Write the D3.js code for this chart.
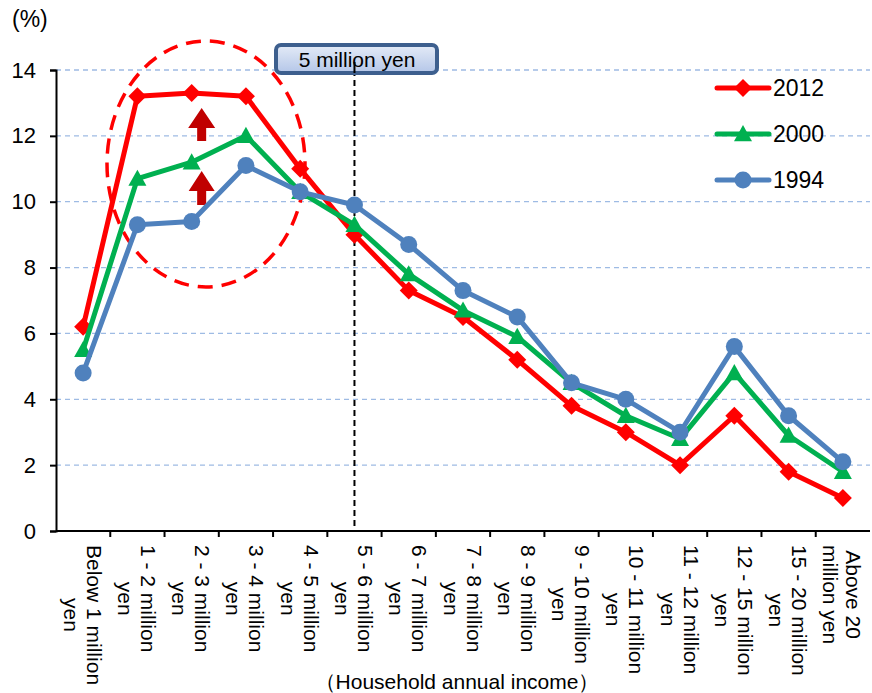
<html>
<head>
<meta charset="utf-8">
<script src="https://d3js.org/d3.v7.min.js"></script>
<style>
  body { margin: 0; background: #fff; }
  svg text { font-family: "Liberation Sans", Arial, sans-serif; fill: #000; }
</style>
</head>
<body>
<div id="chart"></div>
<script>
// categories (income brackets), each label split into its lines
const categories = ["Below 1 million yen", "1 - 2 million yen", "2 - 3 million yen", "3 - 4 million yen",
  "4 - 5 million yen", "5 - 6 million yen", "6 - 7 million yen", "7 - 8 million yen", "8 - 9 million yen",
  "9 - 10 million yen", "10 - 11 million yen", "11 - 12 million yen", "12 - 15 million yen",
  "15 - 20 million yen", "Above 20 million yen"];
const labelLines = [["Below 1 million", "yen"], ["1 - 2 million", "yen"], ["2 - 3 million", "yen"],
  ["3 - 4 million", "yen"], ["4 - 5 million", "yen"], ["5 - 6 million", "yen"], ["6 - 7 million", "yen"],
  ["7 - 8 million", "yen"], ["8 - 9 million", "yen"], ["9 - 10 million", "yen"], ["10 - 11 million", "yen"],
  ["11 - 12 million", "yen"], ["12 - 15 million", "yen"], ["15 - 20 million", "yen"], ["Above 20", "million yen"]];

const v2012 = [6.2, 13.2, 13.3, 13.2, 11.0, 9.0, 7.3, 6.5, 5.2, 3.8, 3.0, 2.0, 3.5, 1.8, 1.0];
const v2000 = [5.5, 10.7, 11.2, 12.0, 10.3, 9.3, 7.8, 6.7, 5.9, 4.5, 3.5, 2.8, 4.8, 2.9, 1.8];
const v1994 = [4.8, 9.3, 9.4, 11.1, 10.3, 9.9, 8.7, 7.3, 6.5, 4.5, 4.0, 3.0, 5.6, 3.5, 2.1];

const yTicks = [0, 2, 4, 6, 8, 10, 12, 14];

const series = [
  { name: "2012", values: v2012, color: "#ff0000", marker: "diamond" },
  { name: "2000", values: v2000, color: "#00b050", marker: "triangle" },
  { name: "1994", values: v1994, color: "#4f81bd", marker: "circle" }
];

const W = 872, H = 693;
const margin = { top: 70, right: 2, bottom: 162, left: 56 };

const svg = d3.select("#chart").append("svg").attr("width", W).attr("height", H);

const x = d3.scaleBand().domain(categories).range([margin.left, W - margin.right]).padding(0);
const cx = d => x(d) + x.bandwidth() / 2;
const y = d3.scaleLinear().domain([0, 14]).range([H - margin.bottom, margin.top]);

// grid lines
svg.append("g").selectAll("line")
  .data(yTicks.filter(t => t > 0))
  .enter().append("line")
  .attr("x1", margin.left).attr("x2", W - margin.right)
  .attr("y1", d => y(d)).attr("y2", d => y(d))
  .attr("stroke", "#9ebbe4").attr("stroke-width", 1.3).attr("stroke-dasharray", "5,4");

// y axis
const yaxis = d3.axisLeft(y).tickValues(yTicks).tickSize(6).tickPadding(14);
const gy = svg.append("g").attr("transform", `translate(${margin.left},0)`).call(yaxis);
gy.select(".domain").attr("stroke", "#000").attr("stroke-width", 2);
gy.selectAll(".tick line").attr("stroke", "#000").attr("stroke-width", 2);
gy.selectAll(".tick text").style("font-size", "22px").attr("font-family", null);

svg.append("text").attr("x", 12).attr("y", 27).style("font-size", "23px").text("(%)");

// vertical dashed marker at 5 million yen
svg.append("line")
  .attr("x1", cx(categories[5])).attr("x2", cx(categories[5]))
  .attr("y1", 60).attr("y2", y(0))
  .attr("stroke", "#000").attr("stroke-width", 2).attr("stroke-dasharray", "6,4");

// x axis
const gx = svg.append("g");
gx.append("line").attr("x1", margin.left).attr("x2", W - margin.right)
  .attr("y1", y(0)).attr("y2", y(0)).attr("stroke", "#000").attr("stroke-width", 2);
gx.selectAll(".xt").data(categories.slice(1)).enter().append("line")
  .attr("x1", d => x(d)).attr("x2", d => x(d))
  .attr("y1", y(0)).attr("y2", y(0) + 6).attr("stroke", "#000").attr("stroke-width", 2);

// rotated category labels (first line on the right, second line to its left)
const lh = 23;
categories.forEach((c, i) => {
  const g = svg.append("g");
  const t = g.append("text").style("font-size", "21px").attr("text-anchor", "middle")
    .attr("dominant-baseline", "central");
  const n = labelLines[i].length;
  labelLines[i].forEach((ln, j) => {
    t.append("tspan").attr("x", 0).attr("y", (j - (n - 1) / 2) * lh).text(ln);
  });
  const maxLen = d3.max(t.selectAll("tspan").nodes(), nd => nd.getComputedTextLength());
  g.attr("transform", `translate(${cx(c)},${y(0) + 14 + maxLen / 2}) rotate(90)`);
});

svg.append("text").attr("x", 457).attr("y", 689).attr("text-anchor", "middle")
  .style("font-size", "21px").text("（Household annual income）");

// ellipse highlight
svg.append("ellipse").attr("cx", 206).attr("cy", 164).attr("rx", 99).attr("ry", 123)
  .attr("fill", "none").attr("stroke", "#ff0000").attr("stroke-width", 3.5).attr("stroke-dasharray", "15,9");

// up arrows
function arrow(px, tip, headH, headW, shaftW, bottom) {
  const p = [[px, tip], [px + headW / 2, tip + headH], [px + shaftW / 2, tip + headH],
    [px + shaftW / 2, bottom], [px - shaftW / 2, bottom], [px - shaftW / 2, tip + headH],
    [px - headW / 2, tip + headH]];
  svg.append("path").attr("d", d3.line()(p) + "Z").attr("fill", "#c00000");
}
arrow(cx(categories[2]) + 10, 108, 20, 27, 9, 141);
arrow(cx(categories[2]) + 10, 171, 20, 26, 9, 205);

// lines and markers (drawn bottom to top: 2012, 2000, 1994)
const line = d3.line().x((d, i) => cx(categories[i])).y(d => y(d));
function drawMarker(g, type, color, px, py, s) {
  if (type === "diamond") {
    g.append("path").attr("d", `M${px},${py - s}L${px + s},${py}L${px},${py + s}L${px - s},${py}Z`).attr("fill", color);
  } else if (type === "triangle") {
    g.append("path").attr("d", `M${px},${py - s}L${px + s},${py + s * 0.8}L${px - s},${py + s * 0.8}Z`).attr("fill", color);
  } else {
    g.append("circle").attr("cx", px).attr("cy", py).attr("r", s).attr("fill", color);
  }
}
const msize = { diamond: 9, triangle: 9, circle: 8.5 };
series.forEach(s => {
  const g = svg.append("g");
  g.append("path").datum(s.values).attr("d", line).attr("fill", "none")
    .attr("stroke", s.color).attr("stroke-width", 5).attr("stroke-linejoin", "round");
  s.values.forEach((v, i) => drawMarker(g, s.marker, s.color, cx(categories[i]), y(v), msize[s.marker]));
});

// legend
series.forEach((s, i) => {
  const ly = 88 + i * 46;
  const g = svg.append("g");
  g.append("line").attr("x1", 717).attr("x2", 769).attr("y1", ly).attr("y2", ly)
    .attr("stroke", s.color).attr("stroke-width", 5).attr("stroke-linecap", "round");
  drawMarker(g, s.marker, s.color, 743, ly, msize[s.marker]);
  g.append("text").attr("x", 773).attr("y", ly).attr("dy", "0.36em").style("font-size", "23px").text(s.name);
});

// 5 million yen box
const defs = svg.append("defs");
const grad = defs.append("linearGradient").attr("id", "boxg").attr("x1", 0).attr("x2", 0).attr("y1", 0).attr("y2", 1);
grad.append("stop").attr("offset", "0%").attr("stop-color", "#e4ebf7");
grad.append("stop").attr("offset", "100%").attr("stop-color", "#b4c6e8");
svg.append("rect").attr("x", 276).attr("y", 45).attr("width", 161).attr("height", 28).attr("rx", 5)
  .attr("fill", "url(#boxg)").attr("stroke", "#3d5f8e").attr("stroke-width", 4);
svg.append("text").attr("x", 357).attr("y", 59).attr("dy", "0.36em").attr("text-anchor", "middle")
  .style("font-size", "21px").text("5 million yen");
svg.append("line")
  .attr("x1", cx(categories[5])).attr("x2", cx(categories[5]))
  .attr("y1", 62).attr("y2", 73)
  .attr("stroke", "#000").attr("stroke-width", 2);
</script>
</body>
</html>
